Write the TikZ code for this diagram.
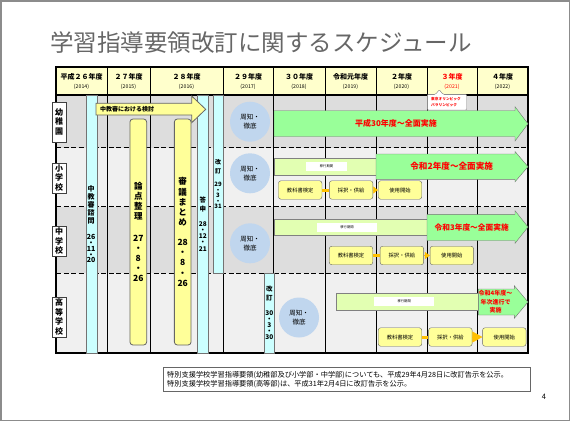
\documentclass[tikz,border=0pt]{standalone}
\usepackage{fontspec}
\setmainfont{Noto Sans CJK JP}
\usetikzlibrary{positioning, arrows.meta}
\definecolor{headYellow}{RGB}{255,255,204}
\definecolor{rowDark}{RGB}{221,221,221}
\definecolor{rowLight}{RGB}{240,240,240}
\definecolor{cyanBar}{RGB}{204,255,255}
\definecolor{barYellow}{RGB}{255,255,153}
\definecolor{fullGreen}{RGB}{153,255,153}
\definecolor{transitGreen}{RGB}{226,255,178}
\definecolor{noticeBlue}{RGB}{192,214,238}
\definecolor{linkOrange}{RGB}{255,192,0}

\begin{document}
\begin{tikzpicture}[x=1pt, y=-1pt,
	hdr/.style={align=center, font=\fontsize{7}{9}\selectfont\bfseries},
	rowlbl/.style={draw=black!75, fill=white, inner sep=1.5pt, minimum width=14, align=center, font=\fontsize{8}{9.5}\selectfont\bfseries},
	cyanbar/.style={draw=black!55, fill=cyanBar, inner sep=0pt, align=center},
	ybar/.style={draw=black!60, fill=barYellow, line width=0.8pt, rounded corners=3pt, inner sep=0pt, minimum width=16.7, minimum height=226, align=center, font=\fontsize{8.5}{10.2}\selectfont\bfseries},
	notice/.style={circle, fill=noticeBlue, minimum size=40, inner sep=0pt, align=center, font=\fontsize{6.5}{8.7}\selectfont},
	stepbox/.style={draw=black!60, fill=barYellow, rounded corners=2.5pt, minimum width=43.5, minimum height=18.5, inner sep=0pt, font=\fontsize{5.3}{6}\selectfont},
	transit/.style={fill=white, inner sep=0pt, minimum height=9.5, font=\fontsize{3.3}{4}\selectfont},
	greenbar/.style={draw=black!50, fill=transitGreen},
	bigarrow/.style={draw=black!55, fill=fullGreen},
	fulltext/.style={text=red, font=\fontsize{8}{9}\selectfont\bfseries},
	link/.style={draw=linkOrange, line width=3pt},
	linkhead/.style={linkOrange, -{Triangle[length=5pt, width=7pt]}}]
	\useasboundingbox (0,0) rectangle (570,421);
	\draw[black!45, line width=1.5pt] (0.75,0.75) rectangle (569.25,420.25);
	\node[anchor=west, inner sep=0pt, text=black!60, font=\fontsize{23.5}{24}\selectfont] (title) at (50,43) {学習指導要領改訂に関するスケジュール};

	\fill[headYellow] (56,67) rectangle (528,95);
	\fill[rowDark] (56,95) rectangle (528,147.5);
	\fill[rowLight] (56,147.5) rectangle (528,206.5);
	\fill[rowDark] (56,206.5) rectangle (528,273);
	\fill[rowLight] (56,273) rectangle (528,353);
	\foreach \x in {107,150,223,273,325,376,427,477}
		\draw[line width=0.9pt] (\x,67) -- (\x,353);
	\foreach \y in {147.5,206.5,273}
		\draw[line width=0.9pt, dash pattern=on 5pt off 2.5pt] (56,\y) -- (528,\y);
	\draw[line width=1.2pt] (56,67) rectangle (528,353) (56,95) -- (528,95);
	\foreach \xa/\xb/\yr/\lbl/\clr in {56/107/2014/平成２６年度/black, 107/150/2015/２７年度/black, 150/223/2016/２８年度/black, 223/273/2017/２９年度/black, 273/325/2018/３０年度/black, 325/376/2019/令和元年度/black, 376/427/2020/２年度/black, 427/477/2021/３年度/red, 477/528/2022/４年度/black}
		\node[hdr, text=\clr] (yr\yr) at ({(\xa+\xb)/2},81) {\lbl\\{\fontsize{5.2}{5.2}\selectfont\mdseries (\yr)}};

	\node[rowlbl, minimum height=40] (kinder) at (59,121.7) {幼\\稚\\園};
	\node[rowlbl] (elem) at (59,178) {小\\学\\校};
	\node[rowlbl] (junior) at (59,241) {中\\学\\校};
	\node[rowlbl, minimum height=40] (senior) at (59,317) {高\\等\\学\\校};

	\node[cyanbar, minimum width=11, minimum height=258, font=\fontsize{7}{8.2}\selectfont\bfseries] (inquiry) at (91.2,224) {中\\教\\審\\諮\\問\\[7.5pt]26\\[-2.4pt]・\\[-2.4pt]11\\[-2.4pt]・\\[-2.4pt]20};
	\node[cyanbar, minimum width=11, minimum height=258, font=\fontsize{6.5}{9.3}\selectfont\bfseries] (report) at (202.8,224) {答\\申\\[5pt]28\\[-3pt]・\\[-3pt]12\\[-3pt]・\\[-3pt]21};
	\node[cyanbar, minimum width=9.4, minimum height=178, font=\fontsize{6}{9}\selectfont\bfseries] (revise1) at (218,184) {改\\訂\\[4pt]29\\[-3.5pt]・\\[-3.5pt]3\\[-3.5pt]・\\[-3.5pt]31};
	\node[cyanbar, minimum width=10, minimum height=80, font=\fontsize{6.5}{9}\selectfont\bfseries] (revise2) at (269.3,313) {改\\訂\\[6.4pt]30\\[-3pt]・\\[-3pt]3\\[-3pt]・\\[-3pt]30};
	\node[ybar] (issues) at (138.3,232) {論\\点\\整\\理\\[11pt]27\\・\\8\\・\\26};
	\node[ybar] (summary) at (182.7,232) {審\\議\\ま\\と\\め\\[9.5pt]28\\・\\8\\・\\26};
	\draw[draw=black!60, fill=barYellow, line width=0.8pt] (96,103.3) -- (191.7,103.3) -- (191.7,96) -- (205.7,109.3) -- (191.7,122.7) -- (191.7,115) -- (96,115) -- cycle;
	\node[anchor=west, inner sep=0pt, font=\fontsize{6}{7}\selectfont\bfseries] (review) at (100,109.3) {中教審における検討};

	\node[notice] (notice1) at (250,121.7) {周知・\\徹底};
	\node[notice] (notice2) at (250,173.3) {周知・\\徹底};
	\node[notice] (notice3) at (250,243.3) {周知・\\徹底};
	\node[notice] (notice4) at (299,317.5) {周知・\\徹底};

	\draw[bigarrow] (274,110.7) -- (515,110.7) -- (515,106.7) -- (528,123.8) -- (515,141) -- (515,136.7) -- (274,136.7) -- cycle;
	\node[fulltext] (full1) at (396,123.5) {平成30年度～全面実施};
	\draw[draw=black!50, fill=white, rounded corners=1pt] (427.3,94.3) -- (435.5,94.3) -- (439.3,89.8) -- (443,94.3) -- (466.7,94.3) -- (466.7,110) -- (427.3,110) -- cycle;
	\node[align=left, text=red, inner sep=0pt, font=\fontsize{3.7}{5.5}\selectfont\bfseries] (olympic) at (446,102.2) {東京オリンピック\\パラリンピック};

	\draw[greenbar] (274,158.5) rectangle (376,175);
	\node[transit, minimum width=41] (transit2) at (326.5,166.7) {移行期間};
	\draw[bigarrow] (376,154) -- (515,154) -- (515,151.5) -- (528,166.7) -- (515,181.8) -- (515,179.3) -- (376,179.3) -- cycle;
	\node[fulltext, font=\fontsize{8.6}{9}\selectfont\bfseries] (full2) at (451.7,166.7) {令和2年度～全面実施};
	\node[stepbox] (check2) at (300.2,190) {教科書検定};
	\node[stepbox, right=7pt of check2] (adopt2) {採択・供給};
	\node[stepbox, right=5pt of adopt2] (use2) {使用開始};
	\draw[link] (check2) -- (adopt2);
	\draw[linkhead] (adopt2) -- (use2);

	\draw[greenbar] (274,219.3) rectangle (427,235);
	\node[transit, minimum width=60.6] (transit3) at (347,227.3) {移行期間};
	\draw[bigarrow] (427,214.3) -- (515,214.3) -- (515,210.7) -- (528,227) -- (515,243.3) -- (515,240.7) -- (427,240.7) -- cycle;
	\node[fulltext, font=\fontsize{7.7}{9}\selectfont\bfseries] (full3) at (471.7,227.5) {令和3年度～全面実施};
	\node[stepbox] (check3) at (351,255.5) {教科書検定};
	\node[stepbox, right=7pt of check3] (adopt3) {採択・供給};
	\node[stepbox, right=6pt of adopt3] (use3) {使用開始};
	\draw[link] (check3) -- (adopt3);
	\draw[linkhead] (adopt3) -- (use3);

	\draw[greenbar] (335.7,293.3) rectangle (478.3,310);
	\node[transit, minimum width=60] (transit4) at (404.2,301.5) {移行期間};
	\draw[bigarrow] (478.3,289) -- (514.3,289) -- (514.3,285.7) -- (528,302) -- (514.3,318.3) -- (514.3,315) -- (478.3,315) -- cycle;
	\node[fulltext, align=center, font=\fontsize{6}{8.5}\selectfont\bfseries] (full4) at (495.5,302) {令和4年度～\\年次進行で\\実施};
	\node[stepbox] (check4) at (400,337) {教科書検定};
	\node[stepbox, right=6.5pt of check4] (adopt4) {採択・供給};
	\node[stepbox, right=10pt of adopt4] (use4) {使用開始};
	\draw[link] (check4) -- (adopt4);
	\draw[linkOrange, -{Triangle[length=10pt, width=11pt]}] (adopt4) -- (use4);

	\node[draw=black!60, line width=0.8pt, anchor=north west, minimum height=24.3, text width=360, inner xsep=3.5pt, align=left, font=\fontsize{7.2}{9}\selectfont] (note) at (163.3,366.7) {特別支援学校学習指導要領(幼稚部及び小学部・中学部)についても、平成29年4月28日に改訂告示を公示。\\特別支援学校学習指導要領(高等部)は、平成31年2月4日に改訂告示を公示。};
	\node[font=\fontsize{7.5}{8}\selectfont] (page) at (544,397.3) {4};
\end{tikzpicture}
\end{document}
